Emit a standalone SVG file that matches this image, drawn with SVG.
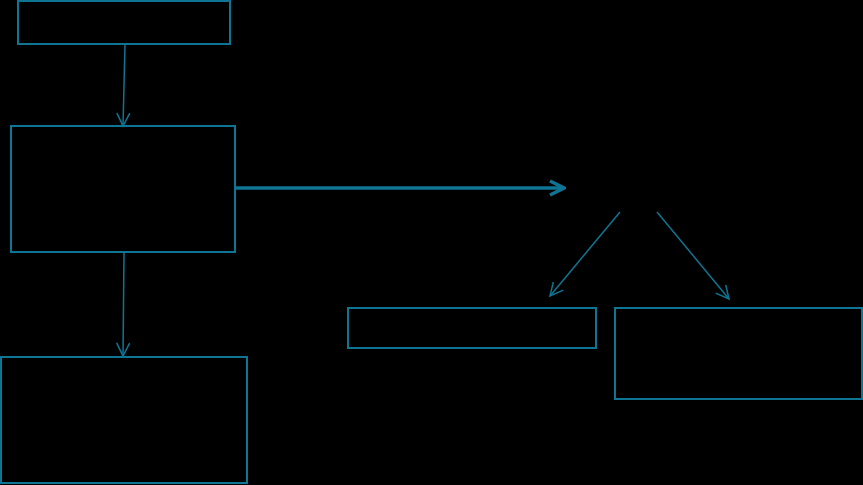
<svg xmlns="http://www.w3.org/2000/svg" width="863" height="485" viewBox="0 0 863 485">
<defs>
<style>
.box{fill:none;stroke:#0f7594;stroke-width:2}
.conn{fill:none;stroke:#0f7594;stroke-width:1.5}
.thick{fill:none;stroke:#0f7594;stroke-width:3.5}
</style>
<marker id="ah" viewBox="0 0 16 16" refX="14" refY="8" markerWidth="16" markerHeight="16" markerUnits="userSpaceOnUse" orient="auto">
<path d="M1,1.5 L14,8 L1,14.5" fill="none" stroke="#0f7594" stroke-width="1.5"/>
</marker>
<marker id="ahb" viewBox="0 0 18 18" refX="16" refY="9" markerWidth="18" markerHeight="18" markerUnits="userSpaceOnUse" orient="auto">
<path d="M2,2 L16,9 L2,16" fill="none" stroke="#0f7594" stroke-width="3.5" stroke-linejoin="miter"/>
</marker>
</defs>
<rect x="0" y="0" width="863" height="485" fill="#000"/>
<g id="connectors">
<path class="conn" d="M125,44 L123,126" marker-end="url(#ah)"/>
<path class="thick" d="M235,188 L564,188" marker-end="url(#ahb)"/>
<path class="conn" d="M124,252 L123,356" marker-end="url(#ah)"/>
<path class="conn" d="M620,212 L550,296" marker-end="url(#ah)"/>
<path class="conn" d="M657,212 L729,299" marker-end="url(#ah)"/>
</g>
<g id="node1"><rect class="box" x="18" y="1" width="212" height="43"/></g>
<g id="node2"><rect class="box" x="11" y="126" width="224" height="126"/></g>
<g id="node3"><rect class="box" x="1" y="357" width="246" height="126"/></g>
<g id="node4"><rect class="box" x="348" y="308" width="248" height="40"/></g>
<g id="node5"><rect class="box" x="615" y="308" width="247" height="91"/></g>
</svg>
